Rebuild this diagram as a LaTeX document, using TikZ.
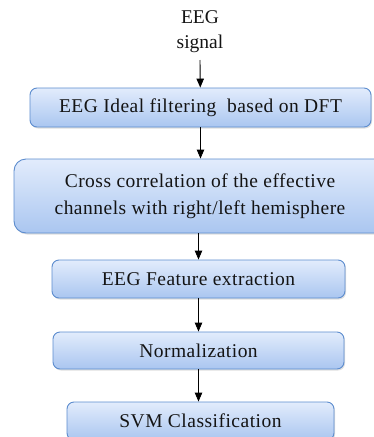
\documentclass[tikz,border=0pt]{standalone}
\usepackage{fontspec}
\setmainfont{Liberation Serif}
\usepackage{tikz}
\usetikzlibrary{arrows.meta,shadows,positioning}

\definecolor{boxedge}{RGB}{92,140,206}
\definecolor{boxtop}{RGB}{226,236,252}
\definecolor{boxbot}{RGB}{170,198,240}
\definecolor{inktext}{RGB}{20,20,20}

\tikzset{
  stage/.style={draw=boxedge, line width=0.9pt, rounded corners=7pt,
    top color=boxtop, bottom color=boxbot, text=inktext,
    drop shadow={shadow xshift=1pt, shadow yshift=-1.5pt, opacity=0.25},
    font=\fontsize{19.5}{27}\selectfont\addfontfeature{LetterSpace=2.5}, align=center, inner sep=0pt},
  flow/.style={-{Triangle[length=9pt,width=7.5pt]}, line width=0.9pt}
}

\begin{document}
\begin{tikzpicture}[x=1pt,y=-1pt]
\useasboundingbox (0,0) rectangle (374,437);
\clip (0,0) rectangle (374,437);
\node[font=\fontsize{19.5}{25}\selectfont, text=inktext, align=center] (src) at (200,32) {EEG\\signal};
\node[stage, minimum width=341pt, minimum height=39pt] (filt) at (200.5,107.5) {EEG Ideal filtering\ \ based on DFT};
\node[stage, minimum width=372pt, minimum height=74pt, rounded corners=12pt] (xcor) at (200,196)
  {Cross correlation of the effective\\channels with right/left hemisphere};
\node[stage, minimum width=293pt, minimum height=38pt] (feat) at (198.5,279) {EEG Feature extraction};
\node[stage, minimum width=291pt, minimum height=37pt] (norm) at (198.5,350.5) {Normalization};
\node[stage, minimum width=267pt, minimum height=38pt] (svm) at (200.5,421) {SVM Classification};
\coordinate (srcend) at (200,60);
\draw[flow] (srcend) -- (filt);
\draw[flow] (filt) -- (filt|-xcor.north);
\draw[flow] (xcor.south-|feat) -- (feat);
\draw[flow] (feat) -- (norm);
\draw[flow] (norm) -- (norm|-svm.north);
\end{tikzpicture}
\end{document}
